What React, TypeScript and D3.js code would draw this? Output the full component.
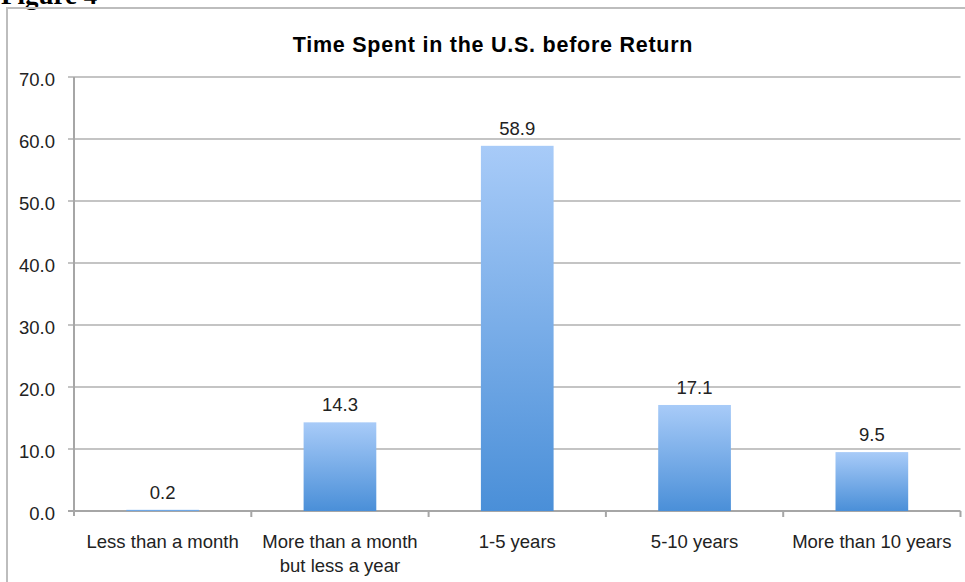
import React from "react";
import * as d3 from "d3";

const categories = ["Less than a month", "More than a month|but less a year", "1-5 years", "5-10 years", "More than 10 years"];
const values = [0.2, 14.3, 58.9, 17.1, 9.5];
const yTicks = [0, 10, 20, 30, 40, 50, 60, 70];
const title = "Time Spent in the U.S. before Return";
const figureLabel = "Figure 4";

export default function App() {
  const W = 965, H = 582;
  const left = 74, right = 960.5, top = 77, bottom = 511;
  const x = d3.scaleBand().domain(categories).range([left, right]).paddingInner(0.59).paddingOuter(0.295);
  const xb = d3.scaleBand().domain(categories).range([left, right]);
  const y = d3.scaleLinear().domain([0, 70]).range([bottom, top]);
  const font = "'Liberation Sans', Arial, sans-serif";
  const fs = 18.5;
  return (
    <svg width={W} height={H} style={{ position: "absolute", left: 0, top: 0, background: "#fff" }}>
      <defs>
        <linearGradient id="barGrad" x1="0" y1="0" x2="0" y2="1">
          <stop offset="0" stopColor="#a8cbf8" />
          <stop offset="1" stopColor="#4a8fd8" />
        </linearGradient>
      </defs>
      <text x={1} y={4} fontFamily="'Liberation Serif', 'DejaVu Serif', serif" fontWeight="bold" fontSize={27} fill="#000">{figureLabel}</text>
      <rect x={7} y={8} width={W} height={H} fill="none" stroke="#bdbdbd" strokeWidth={2} />
      <text x={493} y={52} textAnchor="middle" fontFamily={font} fontWeight="bold" fontSize={21.5} letterSpacing={0.75} fill="#000">{title}</text>
      {yTicks.map((t) => (
        <g key={t}>
          <line x1={left - 6} x2={right} y1={y(t)} y2={y(t)} stroke={t === 0 ? "#a6a6a6" : "#c4c4c4"} strokeWidth={2} />
          <text x={55} y={y(t) + 2} dy="0.36em" textAnchor="end" fontFamily={font} fontSize={fs} fill="#222">{t.toFixed(1)}</text>
        </g>
      ))}
      <line x1={left} x2={left} y1={top} y2={bottom + 5} stroke="#a6a6a6" strokeWidth={2} />
      {categories.map((c, i) => (
        <line key={"t" + i} x1={(xb(c) as number) + xb.bandwidth()} x2={(xb(c) as number) + xb.bandwidth()} y1={bottom} y2={bottom + 6} stroke="#a6a6a6" strokeWidth={2} />
      ))}
      {categories.map((c, i) => {
        const bx = x(c) as number;
        const v = values[i];
        return (
          <g key={c}>
            <rect x={bx} y={y(v)} width={x.bandwidth()} height={bottom - y(v)} fill="url(#barGrad)" />
            <text x={bx + x.bandwidth() / 2} y={y(v) - 11} textAnchor="middle" fontFamily={font} fontSize={fs} fill="#222">{v.toFixed(1)}</text>
          </g>
        );
      })}
      {categories.map((c) => {
        const cx = (xb(c) as number) + xb.bandwidth() / 2;
        const lines = c.split("|");
        return (
          <text key={"l" + c} x={cx} y={547.5} textAnchor="middle" fontFamily={font} fontSize={fs} fill="#222">
            {lines.map((ln, j) => (
              <tspan key={j} x={cx} dy={j === 0 ? 0 : 24}>{ln}</tspan>
            ))}
          </text>
        );
      })}
    </svg>
  );
}
